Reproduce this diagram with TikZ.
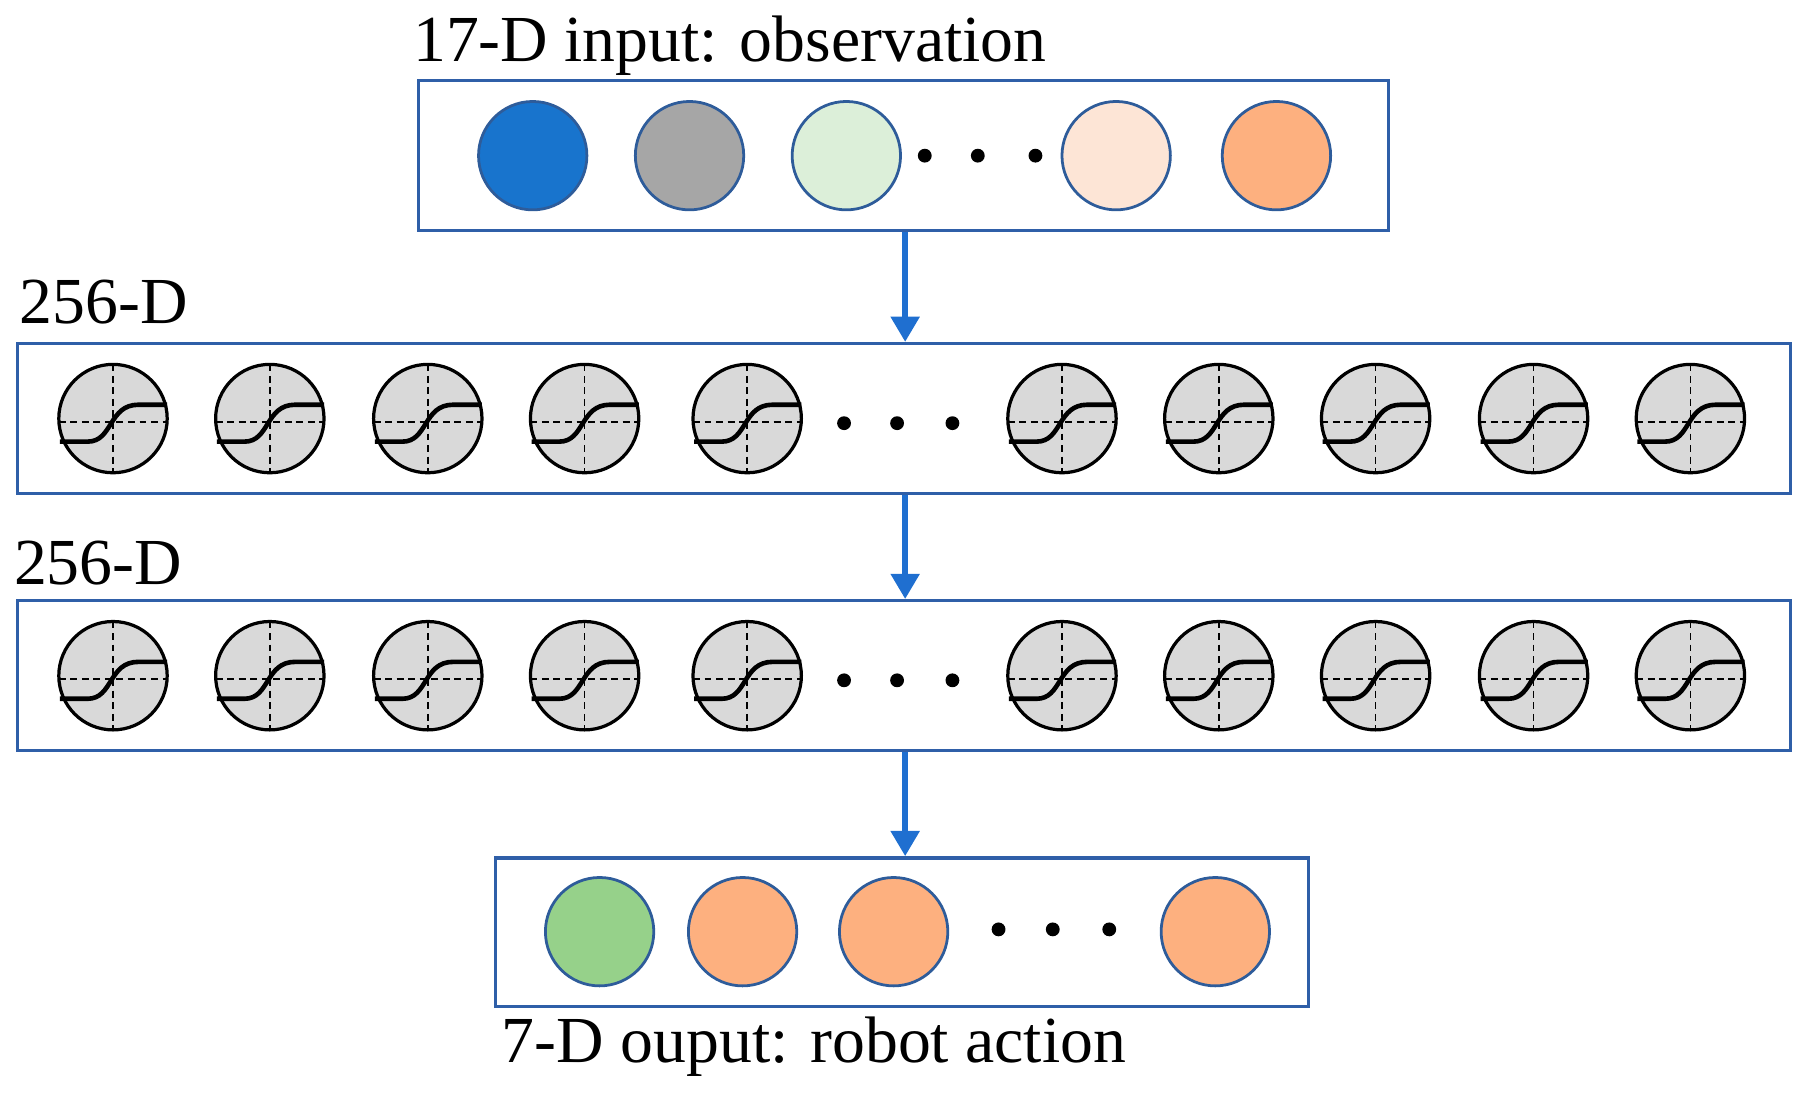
\documentclass[tikz,border=0pt]{standalone}
\usepackage{fontspec}
\setmainfont{Liberation Serif}
\usetikzlibrary{arrows.meta}
\definecolor{boxblue}{HTML}{2F5FA8}
\definecolor{circblue}{HTML}{2E5C9A}
\definecolor{arrblue}{HTML}{1F6FD0}
\definecolor{neugray}{HTML}{D9D9D9}
\definecolor{cdblue}{HTML}{1874CD}
\definecolor{cgray}{HTML}{A6A6A6}
\definecolor{clgreen}{HTML}{DCEFD9}
\definecolor{clorange}{HTML}{FDE5D6}
\definecolor{corange}{HTML}{FDB07F}
\definecolor{cgreen}{HTML}{96D18A}
\begin{document}
\begin{tikzpicture}[x=1pt,y=-1pt,
  box/.style={draw=boxblue,line width=2.8pt},
  io/.style={circle,draw=circblue,line width=2.4pt,minimum size=94pt,inner sep=0pt},
  neu/.style={circle,draw=black,line width=2.8pt,fill=neugray,minimum size=94pt,inner sep=0pt},
  arr/.style={draw=arrblue,line width=5.5pt,-{Triangle[length=22pt,width=24pt]}},
  lbl/.style={font=\fontsize{57}{62}\selectfont,inner sep=0pt},
  dot/.style={circle,fill=black,inner sep=0pt,minimum size=12pt}]
\useasboundingbox (0,0) rectangle (1568,956);
\tikzset{sig/.pic={
  \draw[dashed,line width=1.4pt,dash pattern=on 6pt off 4pt] (-47,3)--(47,3) (0,-47)--(0,47);
  \draw[line width=4pt] (-46,20) -- (-22,20) .. controls (0,20) and (-4,-12) .. (22,-12) -- (47,-12);}}
% texts
\node[lbl] (t1) at (633,40) {17-D input: observation};
\node[lbl,anchor=west] (t2) at (17,262) {256-D};
\node[lbl,anchor=west] (t3) at (12,488) {256-D};
\node[lbl] (t4) at (706,908) {7-D ouput: robot action};
% boxes
\node[box,minimum width=841pt,minimum height=130pt] (b1) at (783.5,135) {};
\node[box,minimum width=1538pt,minimum height=130pt] (b2) at (784,363) {};
\node[box,minimum width=1538pt,minimum height=130pt] (b3) at (784,586) {};
\node[box,minimum width=705pt,minimum height=129pt] (b4) at (782.5,808.5) {};
% input
\node[io,fill=cdblue] (i1) at (462,135) {};
\node[io,fill=cgray] (i2) at (598,135) {};
\node[io,fill=clgreen] (i3) at (734,135) {};
\node[io,fill=clorange] (i4) at (968,135) {};
\node[io,fill=corange] (i5) at (1107,135) {};
\node[dot] (d1) at (802,135) {};
\node[dot] (d2) at (848,135) {};
\node[dot] (d3) at (898,135) {};
% hidden layers
\foreach \L/\y in {h/363,g/586}{
  \foreach \x [count=\k] in {98,234,371,507,648,921,1057,1193,1330,1466}{
    \node[neu] (\L\k) at (\x,\y) {};
    \pic at (\x,\y) {sig};
  }
  \node[dot] (\L d1) at (732,\y+4) {};
  \node[dot] (\L d2) at (778,\y+4) {};
  \node[dot] (\L d3) at (826,\y+4) {};
}
% output
\node[io,fill=cgreen] (o1) at (520,808) {};
\node[io,fill=corange] (o2) at (644,808) {};
\node[io,fill=corange] (o3) at (775,808) {};
\node[io,fill=corange] (o4) at (1054,808) {};
\node[dot] (e1) at (866,806) {};
\node[dot] (e2) at (913,806) {};
\node[dot] (e3) at (962,806) {};
% arrows
\draw[arr] (b1.south -| 785,0) -- (b2.north -| 785,0);
\draw[arr] (b2.south -| 785,0) -- (b3.north -| 785,0);
\draw[arr] (b3.south -| 785,0) -- (b4.north -| 785,0);
\end{tikzpicture}
\end{document}
